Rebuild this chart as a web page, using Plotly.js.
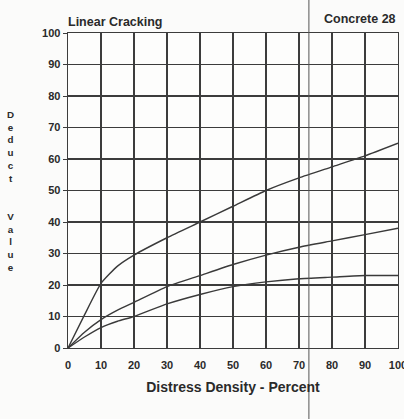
<!DOCTYPE html>
<html><head><meta charset="utf-8">
<script src="https://cdn.plot.ly/plotly-3.0.1.min.js"></script>
<style>html,body{margin:0;padding:0;background:#fbfbfa;}#chart{width:404px;height:419px;}</style>
</head><body><div id="chart"></div>
<script>
const density = [0, 5, 10, 15, 20, 30, 40, 50, 60, 70, 80, 90, 100];
const curveHigh = [0, 10.5, 20.5, 26, 29.5, 35, 40, 45, 50, 54, 57.5, 61, 65];
const curveMid  = [0, 5, 9, 12, 14.5, 19.5, 23, 26.5, 29.5, 32, 34, 36, 38];
const curveLow  = [0, 3.5, 6.5, 8.5, 10, 14, 17, 19.5, 21, 22, 22.5, 23, 23];
const tickVals = [0, 10, 20, 30, 40, 50, 60, 70, 80, 90, 100];
const tickText = ['0','10','20','30','40','50','60','70','80','90','100'];
const chartTitle = 'Linear Cracking';
const chartTag = 'Concrete 28';
const xTitle = 'Distress Density - Percent';
const yTitle = 'Deduct  Value';

const lineStyle = {color: '#3a3a3a', width: 1.4, shape: 'spline', smoothing: 0.5};
const traces = [curveHigh, curveMid, curveLow].map(v => ({
  x: density, y: v, type: 'scatter', mode: 'lines', line: lineStyle, hoverinfo: 'skip'
}));

const font = {family: 'Liberation Sans, Arial, sans-serif', color: '#2a2a2a'};
const layout = {
  width: 404, height: 419,
  margin: {l: 68, r: 6, t: 33, b: 71},
  paper_bgcolor: '#fbfbfa', plot_bgcolor: '#fdfdfc',
  showlegend: false,
  font: font,
  title: {text: '<b>' + chartTitle + '</b>', x: 68/404, xanchor: 'left', y: 0.96, yanchor: 'top',
          font: {family: font.family, size: 12.5, color: '#2a2a2a'}},
  xaxis: {range: [0, 100], tickvals: tickVals, ticktext: tickText.map(t => '<b>' + t + '</b>'),
          showgrid: true, gridcolor: '#3c3c3c', gridwidth: 1.2, zeroline: false,
          showline: true, linecolor: '#3c3c3c', linewidth: 1.4, mirror: true,
          ticks: 'outside', ticklen: 6, tickcolor: 'rgba(0,0,0,0)', ticklabeloverflow: 'allow',
          tickfont: {size: 11, color: '#2a2a2a'},
          title: {text: '<b>' + xTitle + '</b>', font: {size: 14, color: '#2a2a2a'}, standoff: 12}},
  yaxis: {range: [0, 100], tickvals: tickVals, ticktext: tickText.map(t => '<b>' + t + '</b>'),
          showgrid: true, gridcolor: '#3c3c3c', gridwidth: 1.2, zeroline: false,
          showline: true, linecolor: '#3c3c3c', linewidth: 1.4, mirror: true,
          ticks: 'outside', ticklen: 4, tickcolor: '#3c3c3c', tickfont: {size: 11, color: '#2a2a2a'}},
  annotations: [
    {text: '<b>' + chartTag + '</b>', xref: 'paper', yref: 'paper', x: 1.0, y: 1.0, yshift: 5,
     xanchor: 'right', yanchor: 'bottom', showarrow: false, font: {size: 12.5, color: '#2a2a2a'}},
    {text: '<b>' + yTitle.split('').join('<br>') + '</b>', xref: 'paper', yref: 'paper',
     x: 0, xshift: -58, y: 0.5, yshift: 0, xanchor: 'center', yanchor: 'middle', showarrow: false,
     font: {size: 9.8, color: '#2a2a2a'}}
  ],
  shapes: [
    {type: 'line', xref: 'x', yref: 'paper', x0: 73, x1: 73, y0: -0.24, y1: 1.11,
     line: {color: '#555555', width: 1}}
  ]
};
Plotly.newPlot('chart', traces, layout, {displayModeBar: false, staticPlot: true});
</script></body></html>
